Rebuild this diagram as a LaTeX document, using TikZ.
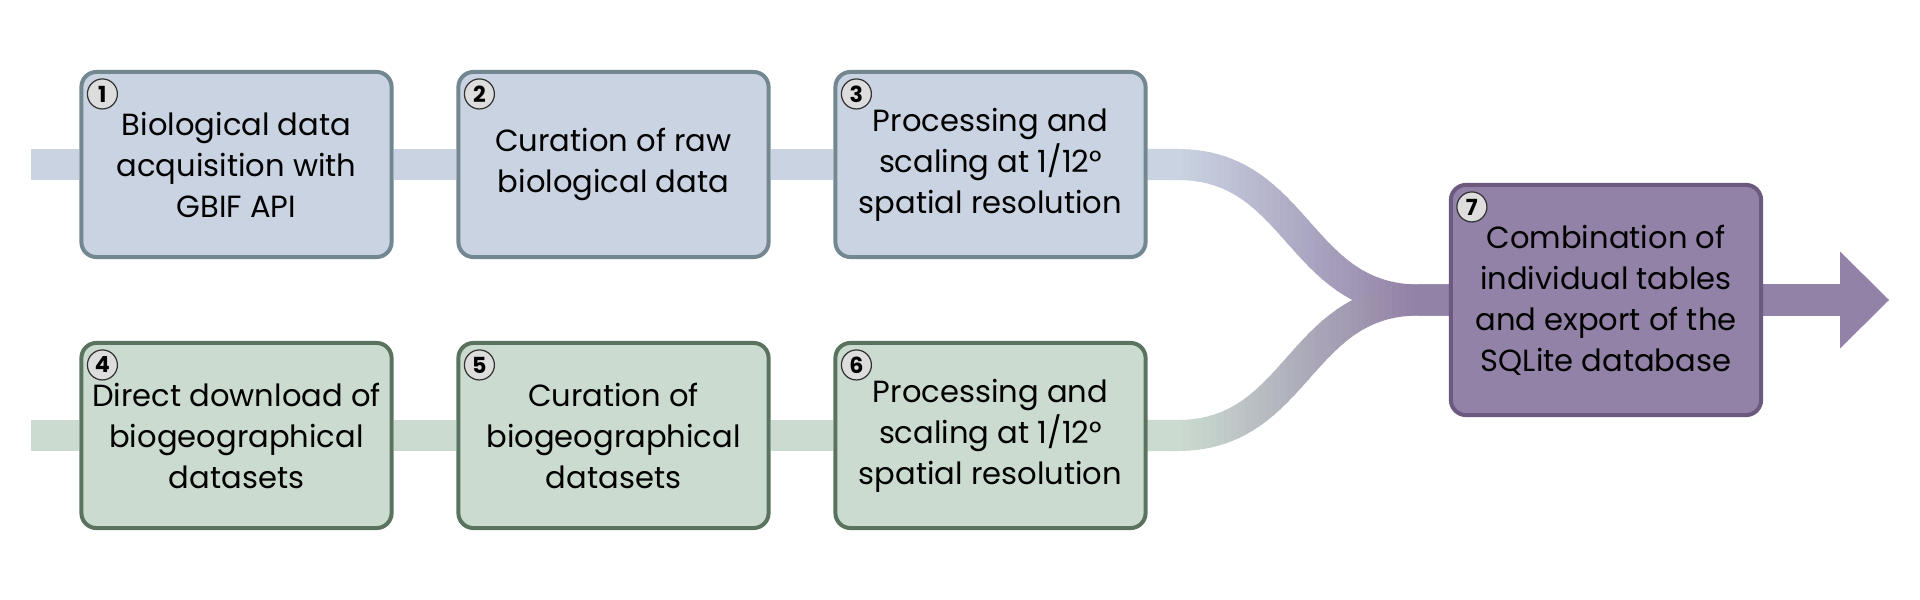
\documentclass[tikz,border=0pt]{standalone}
\usepackage{fontspec}
\setmainfont{Poppins}
\usetikzlibrary{backgrounds}

\definecolor{bluefill}{HTML}{C9D3E1}
\definecolor{blueline}{HTML}{72878F}
\definecolor{greenfill}{HTML}{CBDBCF}
\definecolor{greenline}{HTML}{5A735E}
\definecolor{purplefill}{HTML}{9382A7}
\definecolor{purpleline}{HTML}{6B5A7D}
\definecolor{numfill}{HTML}{DDDDDD}

\tikzset{
  stage/.style={draw, line width=0.4mm, rounded corners=1.5mm, minimum width=3.10cm,
    minimum height=1.85cm, align=center, inner sep=0pt,
    font=\fontsize{8.7}{11.66}\selectfont},
  bio/.style={stage, fill=bluefill, draw=blueline},
  geo/.style={stage, fill=greenfill, draw=greenline},
  final/.style={stage, fill=purplefill, draw=purpleline, minimum height=2.30cm},
  num/.style={circle, draw=black!80, fill=numfill, line width=0.35pt, minimum size=3.0mm,
    inner sep=0pt, font=\fontsize{6.3}{7}\selectfont\bfseries},
  band/.style={line width=3.1mm},
}

\begin{document}
\begin{tikzpicture}[x=0.01cm, y=-0.01cm]
  \useasboundingbox (0,0) rectangle (1920,600);
  \draw
    (236.5,164.5) node[bio] (b1){Biological data\\acquisition with\\GBIF API}
    (613.5,164.5) node[bio] (b2){Curation of raw\\biological data}
    (990.5,164.5) node[bio] (b3){Processing and\\scaling at 1/12°\\spatial resolution}
    (236.5,435.5) node[geo] (b4){Direct download of\\biogeographical\\datasets}
    (613.5,435.5) node[geo] (b5){Curation of\\biogeographical\\datasets}
    (990.5,435.5) node[geo] (b6){Processing and\\scaling at 1/12°\\spatial resolution}
    (1606,300) node[final] (b7){Combination of\\individual tables\\and export of the\\SQLite database};
  \draw
    ([shift={(23,24)}]b1.north west) node[num] (n1){1}
    ([shift={(23,24)}]b2.north west) node[num] (n2){2}
    ([shift={(23,24)}]b3.north west) node[num] (n3){3}
    ([shift={(23,24)}]b4.north west) node[num] (n4){4}
    ([shift={(23,24)}]b5.north west) node[num] (n5){5}
    ([shift={(23,24)}]b6.north west) node[num] (n6){6}
    ([shift={(23,24)}]b7.north west) node[num] (n7){7};
  \coordinate (inA) at (31,164.5);
  \coordinate (inB) at (31,435.5);
  \coordinate (tip) at (1889,300);
  \begin{scope}[on background layer]
    \draw[band, bluefill] (inA) -- (b1) -- (b2) -- (b3);
    \draw[band, greenfill] (inB) -- (b4) -- (b5) -- (b6);
    % merging bands, coloured slice by slice
    \foreach \k in {0,...,45}{
      \pgfmathsetmacro\xa{1140+7*\k}
      \pgfmathtruncatemacro\p{min(100,max(0,(\xa+3.5-1180)/2.3))}
      \begin{scope}
        \clip (\xa,0) rectangle (\xa+8,600);
        \draw[band, purplefill!\p!bluefill] (b3.east) -- ++(30,0)
          .. controls +(121,0) and +(-121,0) .. ([xshift=-3mm]b7.west) -- (b7.west);
        \draw[band, purplefill!\p!greenfill] (b6.east) -- ++(30,0)
          .. controls +(121,0) and +(-121,0) .. ([xshift=-3mm]b7.west) -- (b7.west);
      \end{scope}
    }
    \draw[band, purplefill] (b7) -- ([xshift=-4.8mm]tip);
    \fill[purplefill] (tip) -- ++(-49,-48.5) -- ++(0,97) -- cycle;
  \end{scope}
\end{tikzpicture}
\end{document}
